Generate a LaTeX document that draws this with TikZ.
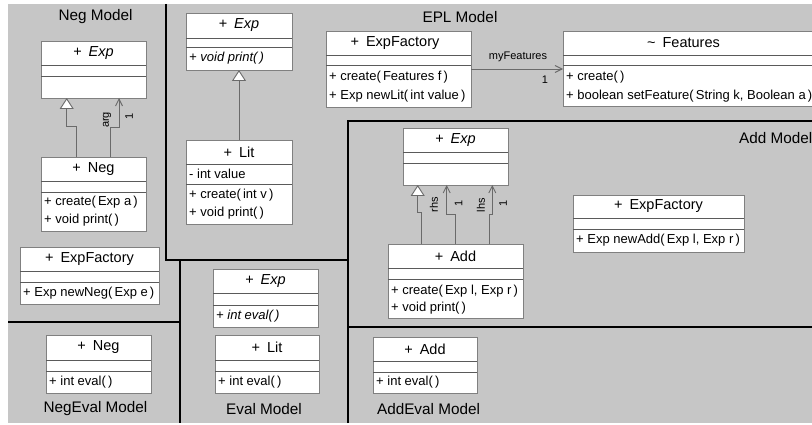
\documentclass[tikz,border=0pt]{standalone}
\usepackage{fontspec}
\setmainfont{Liberation Sans}
\usetikzlibrary{arrows.meta}
\definecolor{bg}{HTML}{C6C6C6}
\definecolor{boxgray}{HTML}{808080}
\definecolor{sepgray}{HTML}{5A5A5A}
\definecolor{conngray}{HTML}{6A6A6A}
\newcommand\UMLcls[7]{%
  \node[clsbox, minimum width={#4-#2}, minimum height={#5-#3}] (#1) at ({(#2+#4)/2},{(#3+#5)/2}) {};
  \draw[sep] (#2,#6) -- (#4,#6);
  \draw[sep] (#2,#7) -- (#4,#7);
}
\newcommand\pl{\hspace{7pt}}
\begin{document}
\begin{tikzpicture}[x=1pt,y=-1pt,
  clsbox/.style={draw=boxgray, fill=white, line width=0.9pt, inner sep=0pt, outer sep=0pt},
  sep/.style={draw=sepgray, line width=0.8pt},
  nm/.style={font=\fontsize{14.5}{16}\selectfont, inner sep=0pt},
  mt/.style={font=\fontsize{13}{15}\selectfont, inner sep=0pt, anchor=west},
  ttl/.style={font=\fontsize{15.3}{17}\selectfont, inner sep=0pt},
  lbl/.style={font=\fontsize{11}{12}\selectfont, inner sep=0pt},
  region/.style={draw=black, line width=1.4pt},
  conn/.style={draw=conngray, line width=0.9pt},
  gen/.style={conn, -{Triangle[fill=white, length=11pt, width=14pt]}},
  assoc/.style={conn, -{Straight Barb[length=7pt, width=7pt]}},
]
\useasboundingbox (0,0) rectangle (812,425);
\fill[bg] (8,4) rectangle (812,423);

% region borders
\draw[region] (166,4) -- (166,260) -- (348,260);
\draw[region] (348,423) -- (348,121) -- (812,121);
\draw[region] (180,260) -- (180,423);
\draw[region] (8,322) -- (180,322);
\draw[region] (348,327) -- (812,327);

% titles
\node[ttl] (tneg) at (95.5,17) {Neg Model};
\node[ttl] (tepl) at (460,17) {EPL Model};
\node[ttl, anchor=west] (tadd) at (739,138) {Add Model};
\node[ttl] (tnegeval) at (95.5,409) {NegEval Model};
\node[ttl] (teval) at (264,409) {Eval Model};
\node[ttl] (taddeval) at (428.5,409) {AddEval Model};

% ---------- Neg Model
\UMLcls{nexp}{41}{41}{146}{98}{65}{76}
\node[nm] (nexpn) at (93.5,53) {+\pl\textit{Exp}};
\UMLcls{neg}{41}{157}{146}{231}{181}{192}
\node[nm] (negn) at (93.5,169) {+\pl Neg};
\node[mt] (negm1) at (44,202) {+ create(\,Exp a\,)};
\node[mt] (negm2) at (44,220) {+ void print(\,)};
\UMLcls{nfac}{20}{247}{159}{304}{271}{282}
\node[nm] (nfacn) at (89.5,259) {+\pl ExpFactory};
\node[mt] (nfacm1) at (23,293) {+ Exp newNeg(\,Exp e\,)};

\draw[gen] ([xshift=-16.8pt]neg.north) -- ++(0,-31) -| ([xshift=-26.8pt]nexp.south);
\draw[assoc] ([xshift=17.2pt]neg.north) -- ++(0,-29.3) -| ([xshift=25.5pt]nexp.south);
\node[lbl, rotate=90] (largn) at (107,120) {arg};
\node[lbl, rotate=90] (lonen) at (129,116) {1};

% ---------- EPL Model
\UMLcls{eexp}{186}{13}{292}{70}{38}{47}
\node[nm] (eexpn) at (239,25.5) {+\pl\textit{Exp}};
\node[mt] (eexpm1) at (189,58.5) {\textit{+ void print(\,)}};
\UMLcls{lit}{186}{140}{292}{224}{164}{184}
\node[nm] (litn) at (239,152) {+\pl Lit};
\node[mt] (lita1) at (189,174) {- int value};
\node[mt] (litm1) at (189,195) {+ create(\,int v\,)};
\node[mt] (litm2) at (189,213) {+ void print(\,)};
\draw[gen] (lit.north) -- (eexp.south);

\UMLcls{efac}{326}{31}{471}{107}{55}{65}
\node[nm] (efacn) at (395,43) {+\pl ExpFactory};
\node[mt] (efacm1) at (329,77) {+ create(\,Features f\,)};
\node[mt] (efacm2) at (329,96) {+ Exp newLit(\,int value\,)};
\UMLcls{feat}{563}{31}{820}{106}{55}{65}
\node[nm] (featn) at (683.5,43) {\textasciitilde\pl Features};
\node[mt] (featm1) at (566,77) {+ create(\,)};
\node[mt] (featm2) at (566,96) {+ boolean setFeature(\,String k, Boolean a\,)};
\draw[assoc] (efac.east) -- (efac.east -| feat.west);
\node[lbl] (lmyf) at (518,57) {myFeatures};
\node[lbl] (lonef) at (545,80) {1};

% ---------- Add Model
\UMLcls{aexp}{403}{128}{508}{185}{152}{163}
\node[nm] (aexpn) at (455.5,140) {+\pl\textit{Exp}};
\UMLcls{add}{388}{244}{523}{318}{268}{279}
\node[nm] (addn) at (455.5,256) {+\pl Add};
\node[mt] (addm1) at (391,291) {+ create(\,Exp l, Exp r\,)};
\node[mt] (addm2) at (391,308) {+ void print(\,)};
\UMLcls{afac}{573}{195}{744}{252}{218}{229}
\node[nm] (afacn) at (658.5,206.5) {+\pl ExpFactory};
\node[mt] (afacm1) at (576,240) {+ Exp newAdd(\,Exp l, Exp r\,)};

\draw[gen] ([xshift=-33.8pt]add.north) -- ++(0,-31.3) -| ([xshift=-37.8pt]aexp.south);
\draw[assoc] ([xshift=0.2pt]add.north) -- ++(0,-30) -| ([xshift=-8.8pt]aexp.south);
\draw[assoc] ([xshift=33.8pt]add.north) -- ++(0,-30) -| ([xshift=36.8pt]aexp.south);
\node[lbl, rotate=90] (lrhs) at (434,205) {rhs};
\node[lbl, rotate=90] (lone1) at (458.5,203) {1};
\node[lbl, rotate=90] (llhs) at (481,205) {lhs};
\node[lbl, rotate=90] (lone2) at (503,203) {1};

% ---------- Eval Model
\UMLcls{vexp}{213}{269}{318}{327}{293}{305}
\node[nm] (vexpn) at (265.5,281) {+\pl\textit{Exp}};
\node[mt] (vexpm1) at (216,316) {\textit{+ int eval(\,)}};
\UMLcls{vlit}{215}{335}{319}{393}{360}{371}
\node[nm] (vlitn) at (267,347.5) {+\pl Lit};
\node[mt] (vlitm1) at (218,382) {+ int eval(\,)};

% ---------- NegEval Model
\UMLcls{vneg}{46}{335}{151}{393}{360}{371}
\node[nm] (vnegn) at (98.5,347.5) {+\pl Neg};
\node[mt] (vnegm1) at (49,382) {+ int eval(\,)};

% ---------- AddEval Model
\UMLcls{vadd}{373}{337}{477}{393}{361}{372}
\node[nm] (vaddn) at (425,349) {+\pl Add};
\node[mt] (vaddm1) at (376,382) {+ int eval(\,)};
\end{tikzpicture}
\end{document}
